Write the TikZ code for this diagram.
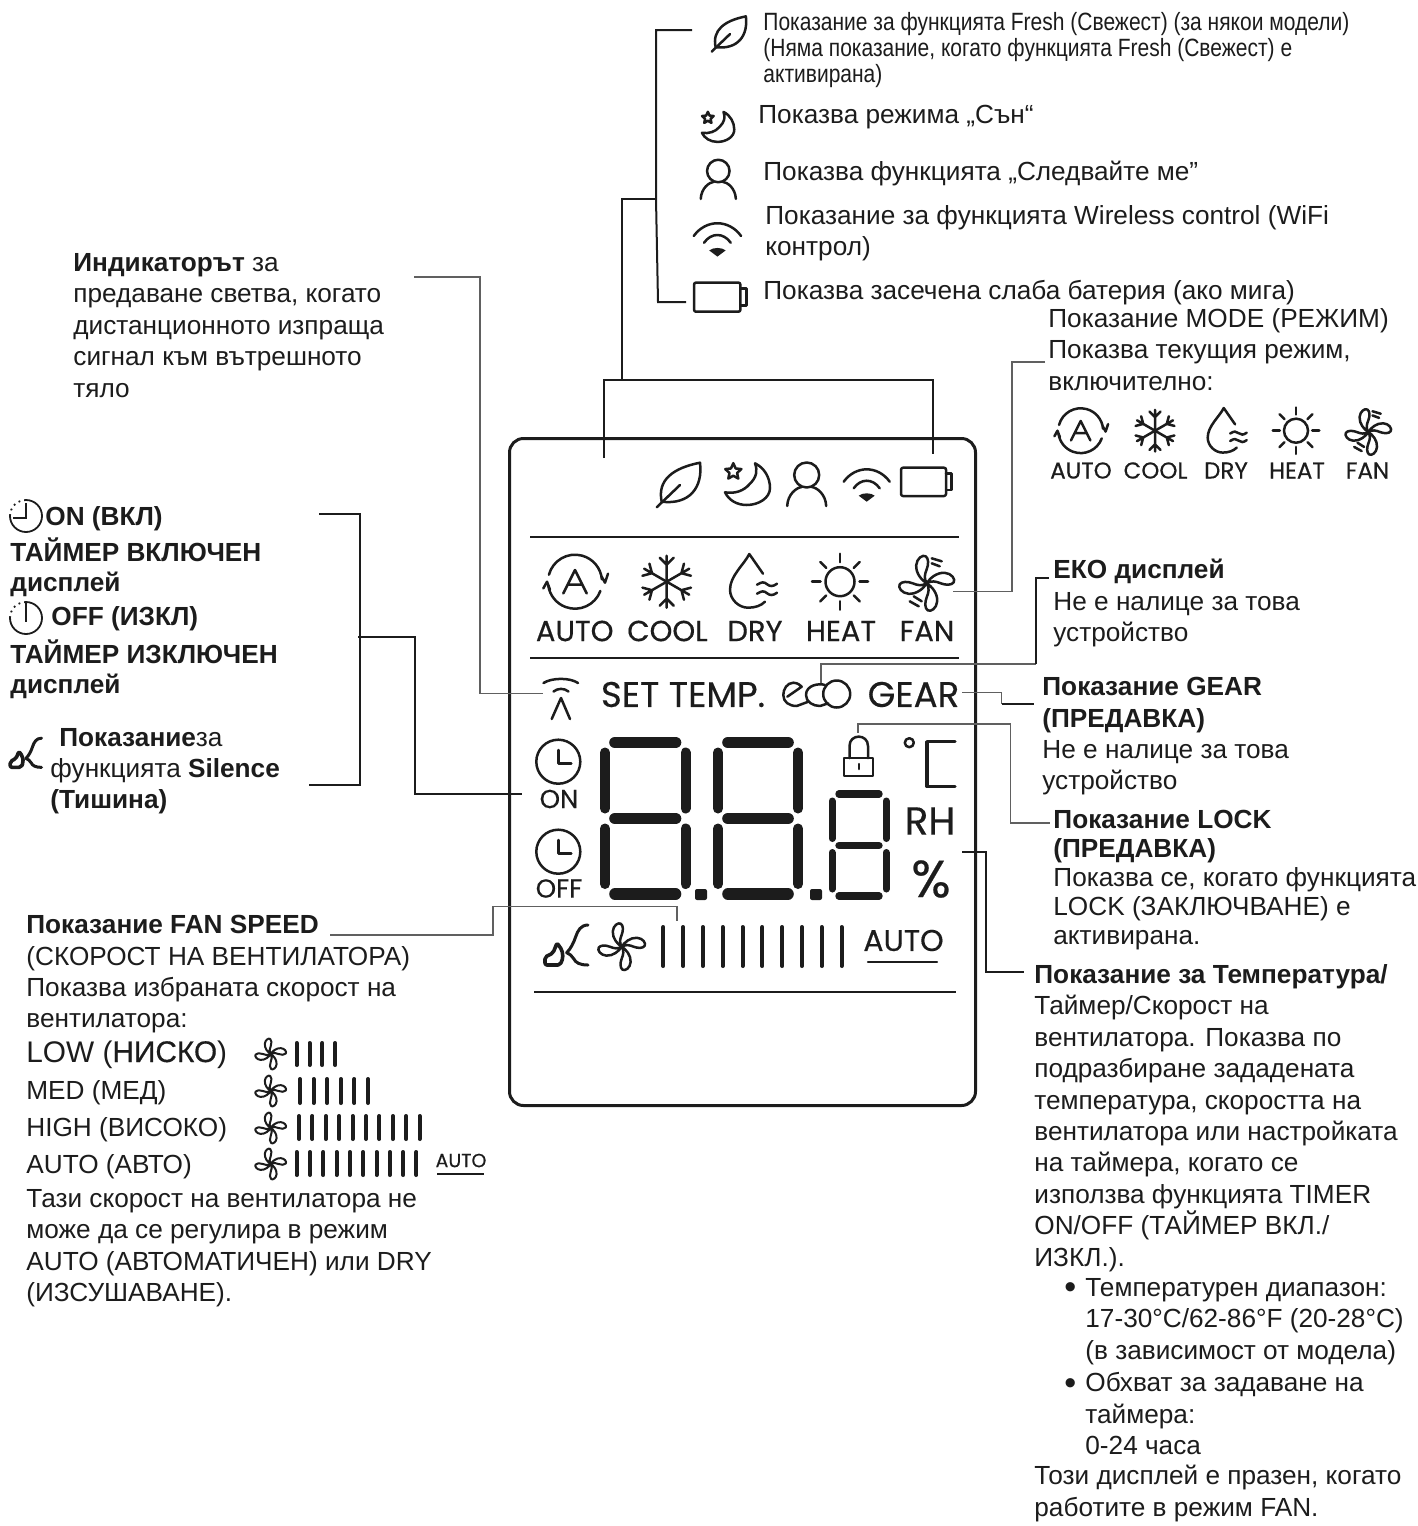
\documentclass[tikz,border=0pt]{standalone}
\usepackage{fontspec}
\setmainfont{Liberation Sans}
\newfontfamily\lcdfont[FakeBold=0.4]{Poppins}
\newfontfamily\narrowfont[FakeStretch=0.84]{Liberation Sans}
\newfontfamily\heavyfont[FakeBold=0.5]{Liberation Sans}
\definecolor{ink}{HTML}{1C1C1C}
\newcommand{\fanblades}{%
  \foreach \r in {0,90,180,270}
    \draw[rotate=\r] (0,0) .. controls (-5,-3) and (-11,-10) .. (-10.5,-18)
      .. controls (-10,-25) and (-4,-29) .. (-1,-27) .. controls (2,-25) and (2,-19) .. (0,-14)
      .. controls (-2,-9) and (-3,-5) .. (0,0);
}
\newcommand{\fanbars}[5]{%
  \foreach \i in {0,...,#3}
    \draw[lcdbar] ({#1+#2*\i},#4) -- ({#1+#2*\i},#5);
}
\newcommand{\segdigit}[8]{%
  \draw[lcdseg, line width=#6] ({#1+#8},#3) -- ({#2-#8},#3) ({#1+#8},#4) -- ({#2-#8},#4) ({#1+#8},#5) -- ({#2-#8},#5);
  \draw[lcdseg, line width=#7] (#1,{#3+#8}) -- (#1,{#4-#8}) (#2,{#3+#8}) -- (#2,{#4-#8})
    (#1,{#4+#8}) -- (#1,{#5-#8}) (#2,{#4+#8}) -- (#2,{#5-#8});
}
\newcommand{\bigbullet}{\hbox to 10.5pt{\raisebox{-1.2pt}{\fontsize{17}{15}\selectfont •}\hss}}
\tikzset{
  txt/.style={inner sep=0pt, anchor=north west, align=left, text=ink,
    font=\fontsize{13.1}{15.7}\selectfont},
  toptxt/.style={txt, font=\narrowfont\fontsize{12.5}{12.9}\selectfont},
  lcd/.style={inner sep=0pt, text=ink},
  lcdbig/.style={lcd, font=\lcdfont\fontsize{14.5}{14.5}\selectfont},
  lcdsmall/.style={lcd, font=\lcdfont\fontsize{11.5}{11.5}\selectfont},
  lcdclock/.style={lcd, font=\lcdfont\fontsize{13}{13}\selectfont},
  lcdwide/.style={lcd, font=\lcdfont\fontsize{17.8}{17.8}\selectfont},
  conn/.style={draw=ink, line width=1pt},
  thinconn/.style={draw=ink!70, line width=.75pt},
  icon/.style={draw=ink, line width=1.25pt, line cap=round, line join=round},
  lcdbar/.style={draw=ink, line width=2pt, line cap=round},
  lcdseg/.style={draw=ink, line cap=round},
  pics/leaficon/.style={code={
    \draw (-21.3,22.3) -- (2,0);
    \draw (-16.3,16.7) .. controls (-21,-5) and (-5,-17) .. (22,-22.3)
      .. controls (25,2) and (12,20) .. (-16.3,16.7);
  }},
  pics/moonicon/.style={code={
    \draw (8.3,-21.7) .. controls (18,-17) and (23.3,-7) .. (23.3,3) .. controls (23.3,13) and (12,20) .. (0,20)
      .. controls (-10,20) and (-18,15) .. (-21.7,7.3) .. controls (-12,9) and (-3,6) .. (3,-1)
      .. controls (10,-8) and (11,-14) .. (8.3,-21.7) -- cycle;
    \draw[shift={(-13.4,-13.3)}] (270:8.5) -- (306:4) -- (342:8.5) -- (18:4) -- (54:8.5) -- (90:4) -- (126:8.5) -- (162:4) -- (198:8.5) -- (234:4) -- cycle;
  }},
  pics/personicon/.style={code={
    \draw (0,-10) circle (12.5);
    \draw (-19.5,21) .. controls (-19,9) and (-10,2.5) .. (-5,2) (5,2) .. controls (10,2.5) and (19,9) .. (19.5,21);
  }},
  pics/wifiicon/.style={code={
    \draw (-23,-3.3) .. controls (-11,-19.8) and (11,-19.8) .. (23,-3.3);
    \draw (-13,3.3) .. controls (-6,-6.8) and (6,-6.8) .. (13,3.3);
    \fill[ink] (-8,10.7) .. controls (-4,7.5) and (4,7.5) .. (8,10.7) -- (0,16.7) -- cycle;
  }},
  pics/batteryicon/.style={code={
    \draw[rounded corners=1pt] (-25.7,-14) rectangle (19.3,14.3);
    \draw (19.3,-8.3) -- (25,-8.3) -- (25,8.3) -- (19.3,8.3);
  }},
  pics/autoicon/.style={code={
    \draw (195:27) arc (195:355:27);
    \draw (20:27) arc (20:172:27);
    \draw (26.7,-5) -- (30,1) -- (33,-8);
    \draw (-31.7,6.7) -- (-28,0) -- (-25,8);
    \draw (-11.7,11.7) -- (0,-11.7) -- (11.7,11.7) (-7,3) -- (7,3);
  }},
  pics/snowicon/.style={code={
    \foreach \a in {30,90,...,330}
      \draw[rotate=\a] (0,0) -- (26,0) (24,-7) -- (17,0) -- (24,7);
  }},
  pics/dropicon/.style={code={
    \draw (13,-8) -- (-0.7,-27.7) .. controls (-6,-17) and (-20,-6) .. (-20,8)
      .. controls (-20,18) and (-11,26) .. (-2,26) .. controls (5,26) and (11,24) .. (15,20);
    \draw (7,3) .. controls (12,0) and (14,0) .. (17,2.5) .. controls (20,5) and (23,5) .. (27,2);
    \draw (7,12) .. controls (12,9) and (14,9) .. (17,11.5) .. controls (20,14) and (23,14) .. (27,11);
  }},
  pics/sunicon/.style={code={
    \draw (0,0) circle (14.5);
    \foreach \a in {0,45,...,315}
      \draw (\a:19.5) -- (\a:28);
  }},
  pics/fanicon/.style={code={\fanblades}},
  pics/fandashicon/.style={code={
    \fanblades
    \draw (5,-25) -- (15,-22) (5,-20) -- (13,-17) (-17,18) -- (-8,23) (-13,13) -- (-5,18);
  }},
  pics/clockicon/.style={code={
    \draw (0,0) circle (22);
    \draw (0,-11.7) -- (0,1.7) -- (13,1.7);
  }},
  pics/silenceicon/.style={code={
    \draw[line width=1.5pt] (21.3,-21.7) .. controls (14,-21.7) and (11,-16) .. (9,-10) .. controls (7,-4) and (4,2) .. (0,6)
      .. controls (3,7) and (5,9) .. (7,12) .. controls (9,16) and (13,18.3) .. (21.3,18.3);
    \draw[line width=1.8pt, rounded corners=1pt] (-21.7,18.3) -- (-21.7,10.3) -- (-13.7,6.3) -- (-9.7,-3.7) -- (-4.7,3.3) -- (-3.7,11.3) -- (-6.7,18.3) -- cycle;
  }},
}
\begin{document}
\begin{tikzpicture}[x=.5pt, y=-.5pt]
  \useasboundingbox (0,0) rectangle (1418,1526);

  \node (disp) [draw=ink, line width=1.5pt, rounded corners=7pt, minimum width=233pt, minimum height=333.5pt, inner sep=0pt] at (742.5,772) {};
  \draw[ink, line width=1pt] (530,537) -- (959,537);
  \draw[ink, line width=1pt] (530,658) -- (959,658);
  \draw[ink, line width=1pt] (534,992) -- (956,992);

  \pic (leafa) [icon] at (678,485) {leaficon};
  \pic (moona) [icon] at (746.7,485) {moonicon};
  \pic (persona) [icon] at (806.7,485) {personicon};
  \pic (wifia) [icon] at (866.7,485) {wifiicon};
  \pic (batterya) [icon] at (926.7,481.7) {batteryicon};

  \pic (autoa) [icon] at (575,581.7) {autoicon};
  \pic (snowa) [icon] at (666.7,581.7) {snowicon};
  \pic (dropa) [icon] at (750,581.7) {dropicon};
  \pic (suna) [icon] at (840,581.7) {sunicon};
  \pic (fana) [icon] at (926.7,583.3) {fandashicon};
  \node[lcdbig] (autolbl) at (574.7,631) {AUTO};
  \node[lcdbig] (coollbl) at (667.5,631) {COOL};
  \node[lcdbig] (drylbl) at (755,631) {DRY};
  \node[lcdbig] (heatlbl) at (841,631) {HEAT};
  \node[lcdbig] (fanlbl) at (927,631) {FAN};

  \draw[icon] (543.5,683) .. controls (552,677.5) and (570,677.5) .. (578,683);
  \draw[icon] (553.5,691.5) .. controls (558,688) and (564,688) .. (568.5,691.5);
  \draw[icon] (551.7,719) -- (561,698) -- (570,719);
  \node[lcdwide] (setlbl) at (683,694.5) {SET TEMP.};
  \node[lcdwide] (gearlbl) at (913.5,694.5) {GEAR};
  \draw[icon] (787.3,696.7) -- (801.7,686.7) .. controls (798,683) and (795,682.7) .. (793.3,682.7)
    .. controls (787,683) and (783.3,689) .. (783.3,695) .. controls (783.3,702) and (789,706) .. (796.7,706) -- (808.3,701.7);
  \draw[icon] (825,685) .. controls (819,683) and (806,685) .. (806,695) .. controls (806,702) and (813,706) .. (820,706) -- (828.3,703.3);
  \draw[icon] (836.7,694) circle (13.5);

  \pic (clockon) [icon] at (558.3,761.7) {clockicon};
  \node[lcdclock] (onlbl) at (559,799) {ON};
  \pic (clockoff) [icon] at (558.3,851.7) {clockicon};
  \node[lcdclock] (offlbl) at (559,888.5) {OFF};

  \segdigit{605}{685.5}{742.5}{818.5}{894}{5.8pt}{5pt}{10}
  \segdigit{718}{798}{742.5}{818.5}{894}{5.8pt}{5pt}{10}
  \segdigit{832}{886}{794}{845.5}{896}{3.7pt}{3.5pt}{7}
  \fill[ink, rounded corners=1pt] (695,889) rectangle (707,900);
  \fill[ink, rounded corners=1pt] (810,889) rectangle (822,900);

  \draw[icon] (844,758) rectangle (873,776);
  \draw[icon] (849.5,758) -- (849.5,746) .. controls (849.5,733.5) and (868,733.5) .. (868,746) -- (868,758);
  \draw[icon] (859,764) -- (859,769);
  \draw[icon] (909.3,742.7) circle (4.5);
  \draw[ink, line width=1.7pt, line join=round, line cap=round] (955,741.7) -- (927,741.7) -- (927,786.5) -- (955,786.5);
  \node[lcd, font=\lcdfont\fontsize{19.5}{19.5}\selectfont] (rhlbl) at (930,821) {RH};
  \node[lcd, font=\lcdfont\fontsize{26}{26}\selectfont] (pctlbl) at (931,879) {\%};

  \pic (silencea) [icon] at (566.7,946.7) {silenceicon};
  \pic (fanb) [icon, scale=.85] at (621.7,946.7) {fanicon};
  \fanbars{663.3}{19.8}{9}{927}{966}
  \node[lcd, font=\lcdfont\fontsize{15}{15}\selectfont] (autob) at (903.5,940.5) {AUTO};
  \draw[ink, line width=1.2pt, line cap=round] (868,961.7) -- (937,961.7);

  \pic (leafb) [icon, scale=.79] at (728.5,34) {leaficon};
  \pic (moonb) [icon, scale=.72] at (717.5,127.5) {moonicon};
  \pic (personb) [icon, scale=.9] at (718.3,180) {personicon};
  \pic (wifib) [icon, scale=1.03] at (717.4,239.4) {wifiicon};
  \pic (batteryb) [icon, scale=1.03] at (720.5,297) {batteryicon};

  \node[toptxt] (freshtxt) at (763,12) {Показание за функцията Fresh (Свежест) (за някои модели)\\(Няма показание, когато функцията Fresh (Свежест) е\\активирана)};
  \node[txt] (sleeptxt) at (758,105) {Показва режима „Сън“};
  \node[txt] (followtxt) at (763,161) {Показва функцията „Следвайте ме”};
  \node[txt] (wifitxt) at (765,205) {Показание за функцията Wireless control (WiFi\\контрол)};
  \node[txt] (battxt) at (763,280) {Показва засечена слаба батерия (ако мига)};

  \node[txt] (modetxt) at (1048,308) {Показание MODE (РЕЖИМ)\\Показва текущия режим,\\включително:};
  \pic (autoc) [icon, scale=.83] at (1080.7,430.7) {autoicon};
  \pic (snowc) [icon, scale=.8] at (1155,430.7) {snowicon};
  \pic (dropc) [icon, scale=.83] at (1224.3,431) {dropicon};
  \pic (sunc) [icon, scale=.83] at (1296,430.7) {sunicon};
  \pic (fanc) [icon, scale=.83] at (1368.3,432) {fandashicon};
  \node[lcdsmall] (autod) at (1081,470.5) {AUTO};
  \node[lcdsmall] (coold) at (1155.5,470.5) {COOL};
  \node[lcdsmall] (dryd) at (1226,470.5) {DRY};
  \node[lcdsmall] (heatd) at (1297,470.5) {HEAT};
  \node[lcdsmall] (fand) at (1367.5,470.5) {FAN};

  \node[txt] (ecotxt) at (1053,559) {\textbf{ЕКО дисплей}\\Не е налице за това\\устройство};
  \node[txt] (geartxt) at (1042,677) {\textbf{Показание GEAR}\\\textbf{(ПРЕДАВКА)}\\Не е налице за това\\устройство};
  \node[txt, font=\fontsize{13.1}{14.5}\selectfont] (locktxt) at (1053,810) {\textbf{Показание LOCK}\\\textbf{(ПРЕДАВКА)}\\Показва се, когато функцията\\LOCK (ЗАКЛЮЧВАНЕ) е\\активирана.};
  \node[txt] (temptxt) at (1034,964) {\textbf{Показание за Температура/}\\Таймер/Скорост на\\вентилатора. Показва по\\подразбиране зададената\\температура, скоростта на\\вентилатора или настройката\\на таймера, когато се\\използва функцията TIMER\\ON/OFF (ТАЙМЕР ВКЛ./\\ИЗКЛ.).};
  \node[txt] (rangetxt) at (1064,1278) {\bigbullet Температурен диапазон:\\\hspace*{10.5pt}17-30°C/62-86°F (20-28°C)\\\hspace*{10.5pt}(в зависимост от модела)};
  \node[txt] (spantxt) at (1064,1372) {\bigbullet Обхват за задаване на\\\hspace*{10.5pt}таймера:\\\hspace*{10.5pt}0-24 часа};
  \node[txt] (emptytxt) at (1034,1465) {Този дисплей е празен, когато\\работите в режим FAN.};

  \node[txt] (indtxt) at (73,253) {\textbf{Индикаторът} за\\предаване светва, когато\\дистанционното изпраща\\сигнал към вътрешното\\тяло};

  \draw[ink, line width=.9pt] (26,500) arc (-90:180:16);
  \draw[ink, line width=.9pt, dotted] (10,516) arc (180:270:16);
  \draw[ink, line width=.9pt] (26,503) -- (26,518) -- (13,518);
  \draw[ink, line width=.9pt] (26,602) arc (-90:180:16);
  \draw[ink, line width=.9pt, dotted] (10,618) arc (180:270:16);
  \draw[ink, line width=.9pt] (26,603) -- (26,622);
  \node[txt] (ontxt) at (45,506) {\textbf{ON (ВКЛ)}};
  \node[txt] (ontimer) at (10,537) {\textbf{ТАЙМЕР ВКЛЮЧЕН}};
  \node[txt] (ondisp) at (10,572) {\textbf{дисплей}};
  \node[txt] (offtxt) at (51,606) {\textbf{OFF (ИЗКЛ)}};
  \node[txt] (offtimer) at (10,639) {\textbf{ТАЙМЕР ИЗКЛЮЧЕН}};
  \node[txt] (offdisp) at (10,674) {\textbf{дисплей}};

  \pic (silenceb) [icon, scale=.73] at (26,754) {silenceicon};
  \node[txt] (silhead) at (59,728) {\textbf{Показание}за};
  \node[txt] (siltxt) at (50,758) {функцията \textbf{Silence}\\\textbf{(Тишина)}};

  \node[txt] (speedtxt) at (26,915) {\textbf{Показание FAN SPEED}\\(СКОРОСТ НА ВЕНТИЛАТОРА)\\Показва избраната скорост на\\вентилатора:};
  \node[txt, font=\fontsize{14.9}{16}\selectfont] (lowtxt) at (26,1040) {LOW ({\heavyfont НИСКО})};
  \node[txt] (medtxt) at (26,1080) {MED (МЕД)};
  \node[txt] (hightxt) at (26,1117) {HIGH (ВИСОКО)};
  \node[txt] (autotxt) at (26,1154) {AUTO (АВТО)};
  \pic (fanlow) [icon, scale=.56, line width=1pt] at (270.7,1054) {fanicon};
  \pic (fanmed) [icon, scale=.56, line width=1pt] at (270.7,1091) {fanicon};
  \pic (fanhigh) [icon, scale=.56, line width=1pt] at (270.7,1128) {fanicon};
  \pic (fanauto) [icon, scale=.56, line width=1pt] at (270.7,1164) {fanicon};
  \fanbars{296.7}{12.8}{3}{1043}{1065}
  \fanbars{300}{13.6}{5}{1079}{1103}
  \fanbars{299}{13.4}{9}{1116}{1139}
  \fanbars{296.7}{13.3}{9}{1152}{1175}
  \node[lcd, font=\lcdfont\fontsize{9.5}{9.5}\selectfont] (autoe) at (461,1160.5) {AUTO};
  \draw[ink, line width=1pt] (437,1174) -- (484,1174);
  \node[txt] (notetxt) at (26,1189) {Тази скорост на вентилатора не\\може да се регулира в режим\\AUTO (АВТОМАТИЧЕН) или DRY\\(ИЗСУШАВАНЕ).};

  \coordinate (topleft) at (604,458);
  \coordinate (topright) at (933,454);
  \coordinate (freshend) at (692,30);
  \coordinate (batend) at (686,302);
  \coordinate (indend) at (414,277);
  \coordinate (sigend) at (543,693.5);
  \coordinate (onend) at (319,514);
  \coordinate (silend) at (309,785);
  \coordinate (clockend) at (522,794);
  \coordinate (speedend) at (330,935);
  \coordinate (barend) at (677,921);
  \coordinate (modeend) at (1045,362);
  \coordinate (fanend) at (953,591.7);
  \coordinate (ecoend) at (821,683);
  \coordinate (ecobend) at (1036,664);
  \coordinate (ecotext) at (1049,578);
  \coordinate (gearend) at (962,692.7);
  \coordinate (gearbend) at (1001.7,704);
  \coordinate (geartext) at (1034,704);
  \coordinate (lockend) at (858,733);
  \coordinate (locktext) at (1050,823);
  \coordinate (rhend) at (962,851.7);
  \coordinate (temptext) at (1024,971.7);

  \draw[conn] (topleft) |- (933,380) -- (topright);
  \draw[conn] (622,380) |- (655,199);
  \draw[conn] (freshend) -| (656,199) -- (658,302) -- (batend);
  \draw[thinconn] (indend) -| (480,693.5) -- (sigend);
  \draw[conn] (onend) -| (360,785) -- (silend);
  \draw[conn] (358,637) -| (415,794) -- (clockend);
  \draw[thinconn] (speedend) -| (493,906.5) -| (barend);
  \draw[thinconn] (modeend) -| (1012,591.7) -- (fanend);
  \draw[thinconn] (ecoend) |- (ecobend);
  \draw[conn] (ecobend) |- (ecotext);
  \draw[thinconn] (gearend) -| (gearbend);
  \draw[conn] (gearbend) -- (geartext);
  \draw[thinconn] (lockend) |- (1010.7,724) |- (locktext);
  \draw[conn] (rhend) -| (985.7,971.7) -- (temptext);
\end{tikzpicture}
\end{document}
